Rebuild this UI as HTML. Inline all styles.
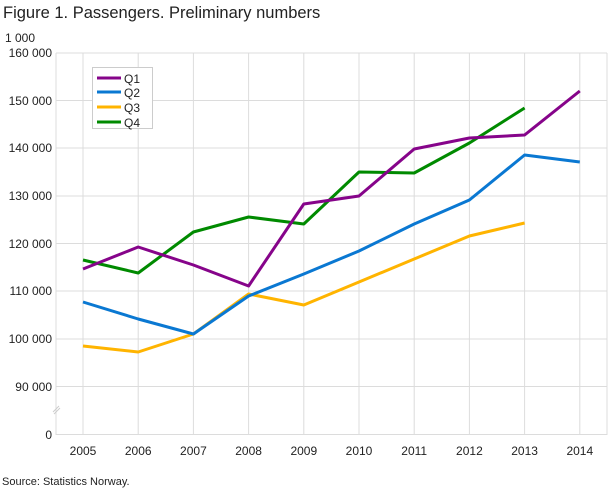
<!DOCTYPE html>
<html><head><meta charset="utf-8"><style>
body{margin:0;background:#fff;}
svg text{font-family:"Liberation Sans",sans-serif;fill:#222;}
</style></head><body>
<svg width="610" height="488" viewBox="0 0 610 488">
<text x="3" y="18" font-size="16.5">Figure 1. Passengers. Preliminary numbers</text>
<text x="5" y="42" font-size="12">1 000</text>
<g stroke="#dcdcdc" stroke-width="1">
<line x1="56" x2="607" y1="53" y2="53"/><line x1="56" x2="607" y1="100.5" y2="100.5"/>
<line x1="56" x2="607" y1="148" y2="148"/><line x1="56" x2="607" y1="196" y2="196"/>
<line x1="56" x2="607" y1="243.5" y2="243.5"/><line x1="56" x2="607" y1="291" y2="291"/>
<line x1="56" x2="607" y1="339" y2="339"/><line x1="56" x2="607" y1="386.5" y2="386.5"/>
<line x1="56" x2="607" y1="434.5" y2="434.5"/>
<line x1="56" x2="56" y1="53" y2="435"/><line x1="607" x2="607" y1="53" y2="435"/>
<line x1="83" x2="83" y1="53" y2="435"/><line x1="138.2" x2="138.2" y1="53" y2="435"/>
<line x1="193.4" x2="193.4" y1="53" y2="435"/><line x1="248.6" x2="248.6" y1="53" y2="435"/>
<line x1="303.8" x2="303.8" y1="53" y2="435"/><line x1="359" x2="359" y1="53" y2="435"/>
<line x1="414.2" x2="414.2" y1="53" y2="435"/><line x1="469.4" x2="469.4" y1="53" y2="435"/>
<line x1="524.6" x2="524.6" y1="53" y2="435"/><line x1="579.8" x2="579.8" y1="53" y2="435"/>
</g>
<g stroke="#ccc" stroke-width="1"><line x1="53" y1="412" x2="59" y2="406"/><line x1="54" y1="414" x2="60" y2="408"/></g>
<g font-size="12" text-anchor="end">
<text x="52" y="57">160 000</text><text x="52" y="105">150 000</text><text x="52" y="152">140 000</text>
<text x="52" y="200">130 000</text><text x="52" y="248">120 000</text><text x="52" y="295">110 000</text>
<text x="52" y="343">100 000</text><text x="52" y="391">90 000</text><text x="52" y="439">0</text>
</g>
<g font-size="12" text-anchor="middle">
<text x="83" y="455">2005</text><text x="138.2" y="455">2006</text><text x="193.4" y="455">2007</text>
<text x="248.6" y="455">2008</text><text x="303.8" y="455">2009</text><text x="359" y="455">2010</text>
<text x="414.2" y="455">2011</text><text x="469.4" y="455">2012</text><text x="524.6" y="455">2013</text>
<text x="579.8" y="455">2014</text>
</g>
<g fill="none" stroke-width="3" stroke-linejoin="round">
<polyline stroke="#008a00" points="83,260 138.2,273 193.4,232 248.6,217 303.8,224 359,172 414.2,173 469.4,143 524.6,108"/>
<polyline stroke="#ffb400" points="83,346 138.2,352 193.4,334 248.6,294 303.8,305 359,282 414.2,259 469.4,236 524.6,223"/>
<polyline stroke="#0a78d2" points="83,302 138.2,319 193.4,334 248.6,296 303.8,274 359,251 414.2,224 469.4,200 524.6,155 579.8,162"/>
<polyline stroke="#86048a" points="83,269 138.2,247 193.4,265 248.6,286 303.8,204 359,196 414.2,149 469.4,138 524.6,135 579.8,91"/>
</g>
<rect x="92.5" y="67.5" width="60" height="61" fill="#fff" stroke="#ccc"/>
<g stroke-width="3">
<line x1="97" x2="121" y1="78" y2="78" stroke="#86048a"/>
<line x1="97" x2="121" y1="92" y2="92" stroke="#0a78d2"/>
<line x1="97" x2="121" y1="107" y2="107" stroke="#ffb400"/>
<line x1="97" x2="121" y1="122" y2="122" stroke="#008a00"/>
</g>
<g font-size="12"><text x="124" y="83">Q1</text><text x="124" y="97">Q2</text><text x="124" y="112">Q3</text><text x="124" y="127">Q4</text></g>
<text x="2" y="485" font-size="11">Source: Statistics Norway.</text>
</svg>
</body></html>
